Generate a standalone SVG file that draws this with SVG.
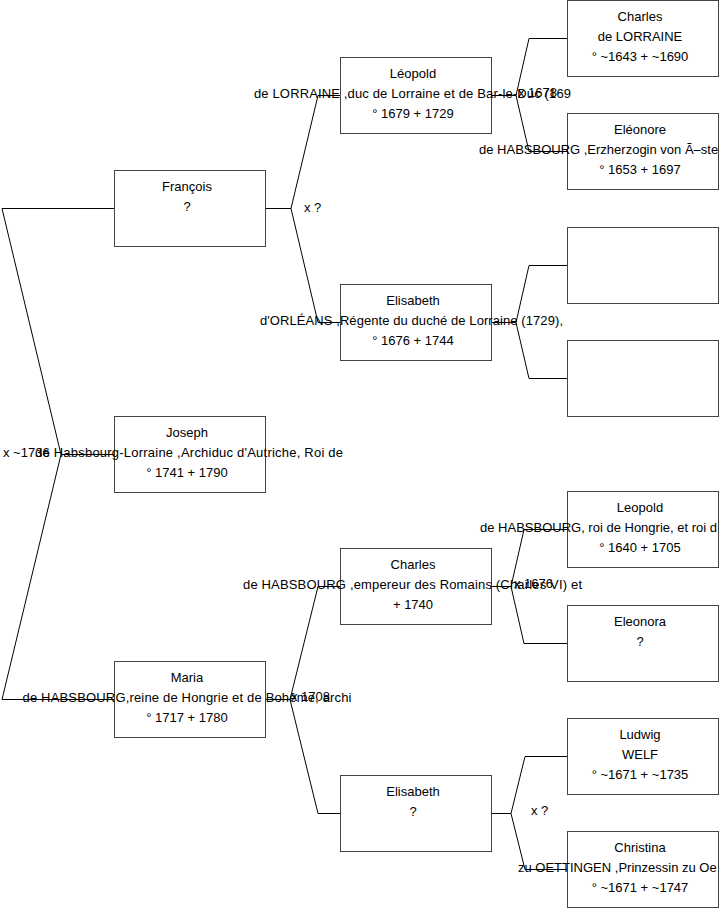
<svg xmlns="http://www.w3.org/2000/svg" width="719" height="908" viewBox="0 0 719 908">
<style>
.b{fill:#fff;stroke:#444;stroke-width:1}
.c{fill:none;stroke:#000;stroke-width:1}
text{font-family:"Liberation Sans",Arial,sans-serif;font-size:13px;fill:#000}
.m{text-anchor:middle}
</style>
<rect width="719" height="908" fill="#fff"/>
<g id="connectors">
<polyline class="c" points="265,208.5 291,208.5 318,95.5 340,95.5"/>
<polyline class="c" points="291,208.5 318,322.5 340,322.5"/>
<polyline class="c" points="492,95.5 516,95.5 529,38.5 567,38.5"/>
<polyline class="c" points="516,95.5 529,151.5 567,151.5"/>
<polyline class="c" points="492,322.5 516,322.5 529,265.5 567,265.5"/>
<polyline class="c" points="516,322.5 529,378.5 567,378.5"/>
<polyline class="c" points="265,699.5 290,699.5 318,586.5 340,586.5"/>
<polyline class="c" points="290,699.5 318,813.5 340,813.5"/>
<polyline class="c" points="492,586.5 511,586.5 524,529.5 567,529.5"/>
<polyline class="c" points="511,586.5 524,643.5 567,643.5"/>
<polyline class="c" points="492,813.5 511,813.5 525,756.5 567,756.5"/>
<polyline class="c" points="511,813.5 525,869.5 567,869.5"/>
<polyline class="c" points="114,454.5 61,454.5 2,208.5 114,208.5"/>
<polyline class="c" points="61,454.5 2,699.5 114,699.5"/>
<text x="304" y="212">x ?</text>
<text x="518" y="97">x 1678</text>
<text x="3" y="457">x ~1736</text>
<text x="514" y="588">x 1676</text>
<text x="291" y="701">x 1708</text>
<text x="531" y="815">x ?</text>
</g>
<g id="francois">
<rect class="b" x="114.5" y="170.5" width="151" height="76"/>
<text class="m" x="187" y="191">François</text>
<text class="m" x="187" y="211">?</text>
</g>
<g id="joseph">
<rect class="b" x="114.5" y="416.5" width="151" height="76"/>
<text class="m" x="187" y="437">Joseph</text>
<text class="m" x="189" y="457" textLength="308" lengthAdjust="spacing">de Habsbourg-Lorraine ,Archiduc d'Autriche, Roi de</text>
<text class="m" x="187" y="477">° 1741 + 1790</text>
</g>
<g id="maria">
<rect class="b" x="114.5" y="661.5" width="151" height="76"/>
<text class="m" x="187" y="682">Maria</text>
<text class="m" x="187" y="702" textLength="329" lengthAdjust="spacing">de HABSBOURG,reine de Hongrie et de Bohême, archi</text>
<text class="m" x="187" y="722">° 1717 + 1780</text>
</g>
<g id="leopold">
<rect class="b" x="340.5" y="57.5" width="151" height="76"/>
<text class="m" x="413" y="78">Léopold</text>
<text class="m" x="412.5" y="98" textLength="317" lengthAdjust="spacing">de LORRAINE ,duc de Lorraine et de Bar-le-Duc (169</text>
<text class="m" x="413" y="118">° 1679 + 1729</text>
</g>
<g id="elisabeth-orleans">
<rect class="b" x="340.5" y="284.5" width="151" height="76"/>
<text class="m" x="413" y="305">Elisabeth</text>
<text class="m" x="411.5" y="325" textLength="303" lengthAdjust="spacing">d'ORLÉANS ,Régente du duché de Lorraine (1729),</text>
<text class="m" x="413" y="345">° 1676 + 1744</text>
</g>
<g id="charles-habsbourg">
<rect class="b" x="340.5" y="548.5" width="151" height="76"/>
<text class="m" x="413" y="569">Charles</text>
<text class="m" x="412.5" y="589" textLength="339" lengthAdjust="spacing">de HABSBOURG ,empereur des Romains (Charles VI) et</text>
<text class="m" x="413" y="609">+ 1740</text>
</g>
<g id="elisabeth">
<rect class="b" x="340.5" y="775.5" width="151" height="76"/>
<text class="m" x="413" y="796">Elisabeth</text>
<text class="m" x="413" y="816">?</text>
</g>
<g id="charles-lorraine">
<rect class="b" x="567.5" y="0.5" width="151" height="76"/>
<text class="m" x="640" y="21">Charles</text>
<text class="m" x="640" y="41">de LORRAINE</text>
<text class="m" x="640" y="61">° ~1643 + ~1690</text>
</g>
<g id="eleonore">
<rect class="b" x="567.5" y="113.5" width="151" height="76"/>
<text class="m" x="640" y="134">Eléonore</text>
<text x="479" y="154">de HABSBOURG ,Erzherzogin von Ã–ste</text>
<text class="m" x="640" y="174">° 1653 + 1697</text>
</g>
<g id="empty-1">
<rect class="b" x="567.5" y="227.5" width="151" height="76"/>
</g>
<g id="empty-2">
<rect class="b" x="567.5" y="340.5" width="151" height="76"/>
</g>
<g id="leopold-habsbourg">
<rect class="b" x="567.5" y="491.5" width="151" height="76"/>
<text class="m" x="640" y="512">Leopold</text>
<text x="480" y="532">de HABSBOURG, roi de Hongrie, et roi d</text>
<text class="m" x="640" y="552">° 1640 + 1705</text>
</g>
<g id="eleonora">
<rect class="b" x="567.5" y="605.5" width="151" height="76"/>
<text class="m" x="640" y="626">Eleonora</text>
<text class="m" x="640" y="646">?</text>
</g>
<g id="ludwig">
<rect class="b" x="567.5" y="718.5" width="151" height="76"/>
<text class="m" x="640" y="739">Ludwig</text>
<text class="m" x="640" y="759">WELF</text>
<text class="m" x="640" y="779">° ~1671 + ~1735</text>
</g>
<g id="christina">
<rect class="b" x="567.5" y="831.5" width="151" height="76"/>
<text class="m" x="640" y="852">Christina</text>
<text x="518" y="872">zu OETTINGEN ,Prinzessin zu Oe</text>
<text class="m" x="640" y="892">° ~1671 + ~1747</text>
</g>
</svg>
